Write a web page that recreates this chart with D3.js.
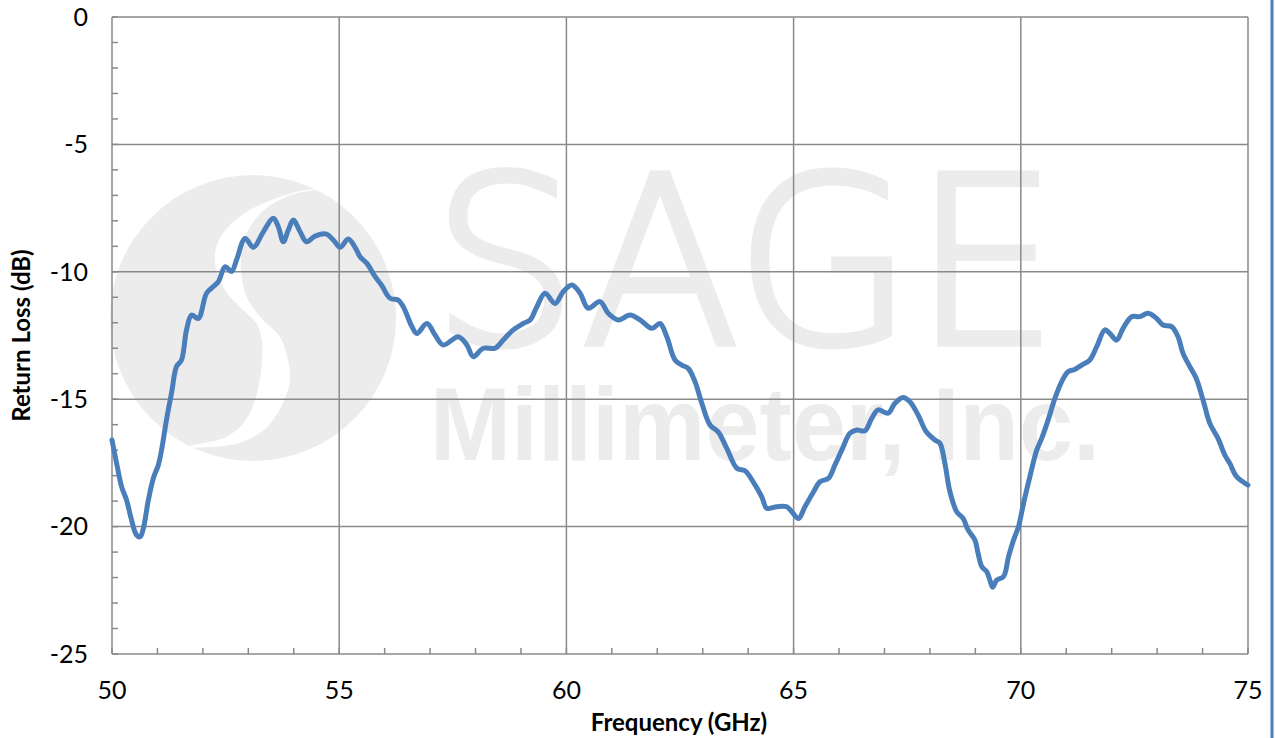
<!DOCTYPE html>
<html>
<head>
<meta charset="utf-8">
<script src="https://cdn.jsdelivr.net/npm/d3@7"></script>
<style>
  html, body { margin: 0; padding: 0; background: #fff; }
  svg { display: block; }
</style>
</head>
<body>
<script>
// return loss data
var freqGHz = [50.00, 50.10, 50.21, 50.32, 50.43, 50.54, 50.62, 50.69, 50.80, 50.91,
  51.02, 51.09, 51.20, 51.31, 51.42, 51.53, 51.64, 51.75, 51.90, 52.08,
  52.23, 52.34, 52.49, 52.63, 52.74, 52.93, 53.11, 53.33, 53.55, 53.66,
  53.77, 53.88, 53.99, 54.14, 54.28, 54.47, 54.72, 54.87, 55.02, 55.20,
  55.35, 55.46, 55.61, 55.79, 55.93, 56.12, 56.30, 56.41, 56.60, 56.71,
  56.93, 57.11, 57.29, 57.62, 57.81, 57.95, 58.17, 58.43, 58.61, 58.83,
  59.05, 59.20, 59.35, 59.53, 59.75, 59.93, 60.12, 60.30, 60.48, 60.74,
  60.92, 61.14, 61.40, 61.62, 61.88, 62.06, 62.21, 62.39, 62.54, 62.68,
  62.83, 62.98, 63.16, 63.34, 63.53, 63.75, 63.93, 64.11, 64.30, 64.41,
  64.63, 64.85, 64.96, 65.11, 65.25, 65.44, 65.58, 65.77, 65.91, 66.06,
  66.24, 66.39, 66.57, 66.72, 66.86, 67.08, 67.23, 67.41, 67.56, 67.74,
  67.92, 68.11, 68.22, 68.33, 68.44, 68.59, 68.73, 68.84, 68.99, 69.06,
  69.14, 69.25, 69.32, 69.38, 69.47, 69.62, 69.73, 69.84, 69.95, 70.06,
  70.20, 70.35, 70.46, 70.60, 70.75, 70.90, 71.04, 71.19, 71.34, 71.52,
  71.67, 71.85, 71.96, 72.11, 72.25, 72.44, 72.62, 72.80, 72.99, 73.13,
  73.32, 73.46, 73.57, 73.72, 73.86, 74.01, 74.16, 74.34, 74.49, 74.60,
  74.75, 75.00];
var returnLoss = [-16.6, -17.5, -18.43, -18.96, -19.74, -20.33, -20.4, -20.07, -18.96, -18.1,
  -17.58, -17.0, -15.8, -14.76, -13.72, -13.46, -12.28, -11.7, -11.83, -10.84,
  -10.58, -10.39, -9.8, -9.99, -9.54, -8.69, -9.04, -8.43, -7.9, -8.23,
  -8.82, -8.36, -7.97, -8.43, -8.82, -8.6, -8.52, -8.75, -9.04, -8.71,
  -9.04, -9.41, -9.67, -10.19, -10.52, -11.04, -11.11, -11.37, -12.15, -12.42,
  -12.03, -12.48, -12.87, -12.55, -12.87, -13.33, -13.0, -13.0, -12.68, -12.28,
  -12.03, -11.89, -11.37, -10.84, -11.24, -10.78, -10.52, -10.84, -11.43, -11.17,
  -11.63, -11.89, -11.7, -11.89, -12.22, -12.03, -12.55, -13.46, -13.66, -13.79,
  -14.31, -15.16, -16.01, -16.28, -16.93, -17.71, -17.81, -18.24, -18.83, -19.28,
  -19.22, -19.22, -19.42, -19.68, -19.22, -18.63, -18.24, -18.1, -17.58, -17.0,
  -16.34, -16.21, -16.24, -15.75, -15.42, -15.55, -15.16, -14.93, -15.1, -15.62,
  -16.28, -16.6, -16.73, -17.52, -18.63, -19.42, -19.68, -20.13, -20.53, -21.05,
  -21.57, -21.77, -22.1, -22.38, -22.1, -21.96, -21.18, -20.53, -20.0, -19.09,
  -18.04, -17.0, -16.54, -15.82, -14.97, -14.31, -13.92, -13.83, -13.66, -13.46,
  -12.94, -12.28, -12.42, -12.68, -12.22, -11.76, -11.76, -11.63, -11.83, -12.09,
  -12.15, -12.55, -13.2, -13.72, -14.18, -15.03, -15.95, -16.54, -17.19, -17.52,
  -18.04, -18.37];

var xTicks = [50, 55, 60, 65, 70, 75];
var yTicks = [0, -5, -10, -15, -20, -25];

function drawChart() {
    var W = 1275, H = 738;
    var pLeft = 112, pRight = 1248, pTop = 17, pBottom = 654;
    var gridColor = "#8a8a8a";
    var lineColor = "#4a7ebb";
    var markColor = "#ececec";
    var font = "Lato, 'Open Sans', 'Liberation Sans', sans-serif";

    var x = d3.scaleLinear().domain([50, 75]).range([pLeft, pRight]);
    var y = d3.scaleLinear().domain([-25, 0]).range([pBottom, pTop]);

    var svg = d3.select("body").append("svg").attr("width", W).attr("height", H);

    // watermark: logo + company name
    var wm = svg.append("g");
    wm.append("circle").attr("cx", 253).attr("cy", 318).attr("r", 143).attr("fill", markColor);
    var swoosh = [[300,191],[250,210],[223,233],[215,253],[217,273],[227,293],[243,310],[257,324],
        [262,342],[262,362],[257,393],[246,420],[226,437],[185,447],
        [240,443],[267,427],[283,403],[290,380],[288,360],[280,337],[263,320],[248,300],
        [242,280],[241,260],[245,237],[262,212],[288,196],[318,189]];
    wm.append("path")
        .attr("d", d3.line().curve(d3.curveCatmullRomClosed)(swoosh))
        .attr("fill", "#fff");
    wm.append("text")
        .attr("x", 432).attr("y", 343)
        .attr("textLength", 626).attr("lengthAdjust", "spacingAndGlyphs")
        .style("font-family", "'DejaVu Sans', sans-serif").style("font-weight", 200)
        .style("font-size", "232px").attr("fill", markColor)
        .attr("stroke", markColor).attr("stroke-width", 7)
        .text("SAGE");
    wm.append("text")
        .attr("x", 430).attr("y", 460)
        .attr("textLength", 670).attr("lengthAdjust", "spacingAndGlyphs")
        .style("font-family", "'Liberation Sans', Arial, sans-serif").style("font-weight", "bold")
        .style("font-size", "104px").attr("fill", markColor)
        .text("Millimeter, Inc.");

    // grid + frame
    svg.append("g").selectAll("line").data(yTicks).enter().append("line")
        .attr("x1", pLeft).attr("x2", pRight)
        .attr("y1", function (d) { return y(d); }).attr("y2", function (d) { return y(d); })
        .attr("stroke", gridColor).attr("stroke-width", 1.5);
    svg.append("g").selectAll("line").data(xTicks).enter().append("line")
        .attr("y1", pTop).attr("y2", pBottom)
        .attr("x1", function (d) { return x(d); }).attr("x2", function (d) { return x(d); })
        .attr("stroke", gridColor).attr("stroke-width", 1.5);

    // minor ticks, pointing inward
    svg.append("g").selectAll("line").data(d3.range(-25, 1)).enter().append("line")
        .attr("x1", pLeft).attr("x2", pLeft + 6)
        .attr("y1", function (d) { return y(d); }).attr("y2", function (d) { return y(d); })
        .attr("stroke", gridColor).attr("stroke-width", 1.5);
    svg.append("g").selectAll("line").data(d3.range(50, 76)).enter().append("line")
        .attr("y1", pBottom).attr("y2", pBottom - 6)
        .attr("x1", function (d) { return x(d); }).attr("x2", function (d) { return x(d); })
        .attr("stroke", gridColor).attr("stroke-width", 1.5);

    // data line
    var pts = freqGHz.map(function (f, i) { return [f, returnLoss[i]]; });
    svg.append("path")
        .attr("d", d3.line()
            .x(function (d) { return x(d[0]); })
            .y(function (d) { return y(d[1]); })
            .curve(d3.curveCatmullRom.alpha(0.5))(pts))
        .attr("fill", "none").attr("stroke", lineColor)
        .attr("stroke-width", 5).attr("stroke-linejoin", "round").attr("stroke-linecap", "round");

    // tick labels
    svg.append("g").selectAll("text").data(yTicks).enter().append("text")
        .attr("x", 88).attr("y", function (d) { return y(d); })
        .attr("dy", "0.35em").attr("text-anchor", "end")
        .style("font-family", font).style("font-size", "25px").attr("fill", "#000")
        .text(function (d) { return d; });
    svg.append("g").selectAll("text").data(xTicks).enter().append("text")
        .attr("x", function (d) { return x(d); }).attr("y", 699)
        .attr("text-anchor", "middle")
        .style("font-family", font).style("font-size", "25px").attr("fill", "#000")
        .text(function (d) { return d; });

    // axis titles
    svg.append("text")
        .attr("x", (pLeft + pRight) / 2 - 1).attr("y", 731).attr("text-anchor", "middle")
        .style("font-family", font).style("font-weight", "bold").style("font-size", "24px")
        .text("Frequency (GHz)");
    svg.append("text")
        .attr("transform", "translate(30," + ((pTop + pBottom) / 2) + ") rotate(-90)")
        .attr("text-anchor", "middle")
        .style("font-family", font).style("font-weight", "bold").style("font-size", "24px")
        .text("Return Loss (dB)");

    // right frame edge
    svg.append("line").attr("x1", 1272).attr("x2", 1272).attr("y1", 0).attr("y2", H)
        .attr("stroke", lineColor).attr("stroke-width", 3);
}

drawChart();
</script>
</body>
</html>
